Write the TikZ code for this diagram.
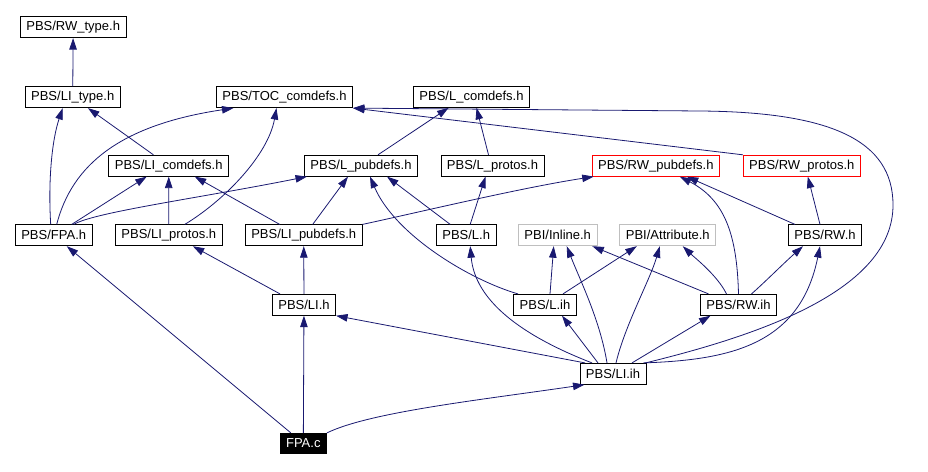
\documentclass[tikz,border=0pt]{standalone}
\usepackage{fontspec}
\setmainfont{Liberation Sans}
\usepackage{xcolor}
\usepackage{tikz}
\usetikzlibrary{arrows.meta}
\definecolor{edgeblue}{HTML}{191970}
\definecolor{boxgrey}{HTML}{BFBFBF}

\begin{document}
\begin{tikzpicture}[
  x=1pt, y=-1pt,
  every node/.style={font=\fontsize{13}{15}\selectfont},
  filebox/.style={draw, line width=0.8pt, inner xsep=6pt, inner ysep=0pt, minimum height=21pt, fill=white},
  redbox/.style={filebox, draw=red},
  greybox/.style={filebox, draw=boxgrey},
  mainbox/.style={filebox, fill=black, text=white, minimum height=20pt},
  arrow/.style={-{Triangle[length=11.5pt,width=7.5pt]}, draw=edgeblue, line width=0.8pt}
]
\useasboundingbox (0,0) rectangle (928,471);

\node[filebox] (rwtype) at (73.2,27.2) {PBS/RW\_type.h};
\node[filebox] (litype) at (72.7,97.2) {PBS/LI\_type.h};
\node[filebox] (toccom) at (284.5,97.2) {PBS/TOC\_comdefs.h};
\node[filebox] (lcom) at (471.5,97) {PBS/L\_comdefs.h};
\node[filebox] (licom) at (168.7,165.7) {PBS/LI\_comdefs.h};
\node[filebox] (lpub) at (361,165.7) {PBS/L\_pubdefs.h};
\node[filebox] (lprot) at (492.5,165.7) {PBS/L\_protos.h};
\node[redbox] (rwpub) at (655.8,165.7) {PBS/RW\_pubdefs.h};
\node[redbox] (rwprot) at (801.8,165.7) {PBS/RW\_protos.h};
\node[filebox] (fpah) at (53.7,235.3) {PBS/FPA.h};
\node[filebox] (liprot) at (168.8,235.3) {PBS/LI\_protos.h};
\node[filebox] (lipub) at (303.7,235.3) {PBS/LI\_pubdefs.h};
\node[filebox] (lh) at (466.2,235.3) {PBS/L.h};
\node[greybox] (inl) at (557.7,235.3) {PBI/Inline.h};
\node[greybox] (attr) at (667.8,235.3) {PBI/Attribute.h};
\node[filebox] (rwh) at (825,235.3) {PBS/RW.h};
\node[filebox] (lih) at (304,304.8) {PBS/LI.h};
\node[filebox] (lint) at (545,304.8) {PBS/L.ih};
\node[filebox] (rwint) at (738.5,304.8) {PBS/RW.ih};
\node[filebox] (liint) at (613,373.8) {PBS/LI.ih};
\node[mainbox] (fpac) at (303.3,443.3) {FPA.c};

\draw[arrow] (litype) -- (rwtype);
\draw[arrow] ([xshift=-3pt]fpah.north) .. controls (48,180) and (52,140) .. ([xshift=-10pt]litype.south);
\draw[arrow] (licom) -- (litype);
\draw[arrow] ([xshift=3pt]fpah.north) .. controls (72,165) and (120,125) .. ([xshift=-51pt]toccom.south);
\draw[arrow] ([xshift=16pt]liprot.north) .. controls (225,200) and (268,155) .. ([xshift=-8pt]toccom.south);
\draw[arrow] ([xshift=17pt]lpub.north) -- ([xshift=-23pt]lcom.south);
\draw[arrow] ([xshift=-4pt]lprot.north) -- ([xshift=5pt]lcom.south);
\draw[arrow] ([xshift=18pt]fpah.north) -- ([xshift=-22pt]licom.south);
\draw[arrow] (liprot) -- (licom);
\draw[arrow] ([xshift=-24pt]lipub.north) -- ([xshift=26pt]licom.south);
\draw[arrow] ([xshift=20pt]fpah.north) .. controls (95,212) and (200,198) .. ([xshift=3pt]lpub.south west);
\draw[arrow] ([xshift=9pt]lipub.north) -- ([xshift=-13pt]lpub.south);
\draw[arrow] ([xshift=-16pt]lh.north) -- ([xshift=26pt]lpub.south);
\draw[arrow] ([xshift=-27pt]lint.north) .. controls (470,280) and (395,235) .. ([xshift=9pt]lpub.south);
\draw[arrow] ([xshift=4pt]lh.north) -- ([xshift=-7pt]lprot.south);
\draw[arrow] (lipub.north east) .. controls (420,212) and (520,188) .. ([xshift=2pt]rwpub.south west);
\draw[arrow] ([xshift=-30pt]rwh.north) -- ([xshift=31pt]rwpub.south);
\draw[arrow] (rwint.north) .. controls (737,235) and (725,200) .. ([xshift=24pt]rwpub.south);
\draw[arrow] ([xshift=-5pt]rwh.north) -- ([xshift=6pt]rwprot.south);
\draw[arrow] (rwprot.north west) -- (toccom.south east);
\draw[arrow] ([xshift=-1pt]liint.north east) .. controls (760,335) and (893,290) .. (893,205) .. controls (893,140) and (830,112) .. (700,111) -- (toccom.south east);
\draw[arrow] ([xshift=5pt]lint.north) -- ([xshift=-4pt]inl.south);
\draw[arrow] ([xshift=18pt]lint.north) -- ([xshift=-31pt]attr.south);
\draw[arrow] ([xshift=-30pt]rwint.north) -- ([xshift=-5pt]inl.south east);
\draw[arrow] ([xshift=-12pt]rwint.north) .. controls (717,275) and (695,258) .. ([xshift=15pt]attr.south);
\draw[arrow] ([xshift=13pt]rwint.north) .. controls (765,282) and (785,262) .. ([xshift=-22pt]rwh.south);
\draw[arrow] ([xshift=-24pt]lih.north) -- ([xshift=24pt]liprot.south);
\draw[arrow] (lih) -- (lipub);
\draw[arrow] ([xshift=-28pt]liint.north) -- (lih.south east);
\draw[arrow] ([xshift=-21pt]liint.north) .. controls (520,335) and (475,300) .. ([xshift=4pt]lh.south);
\draw[arrow] ([xshift=-15pt]liint.north) -- ([xshift=17pt]lint.south);
\draw[arrow] ([xshift=-6pt]liint.north) .. controls (600,320) and (580,280) .. ([xshift=9pt]inl.south);
\draw[arrow] ([xshift=3pt]liint.north) .. controls (625,325) and (650,280) .. ([xshift=-8pt]attr.south);
\draw[arrow] ([xshift=19pt]liint.north) -- ([xshift=-28pt]rwint.south);
\draw[arrow] ([xshift=-3pt]liint.north east) .. controls (730,360) and (800,345) .. ([xshift=-5pt]rwh.south);
\draw[arrow] (fpac) -- (fpah);
\draw[arrow] (fpac) -- (lih);
\draw[arrow] (fpac.north east) .. controls (370,412) and (480,400) .. ([xshift=5pt]liint.south west);
\end{tikzpicture}
\end{document}
